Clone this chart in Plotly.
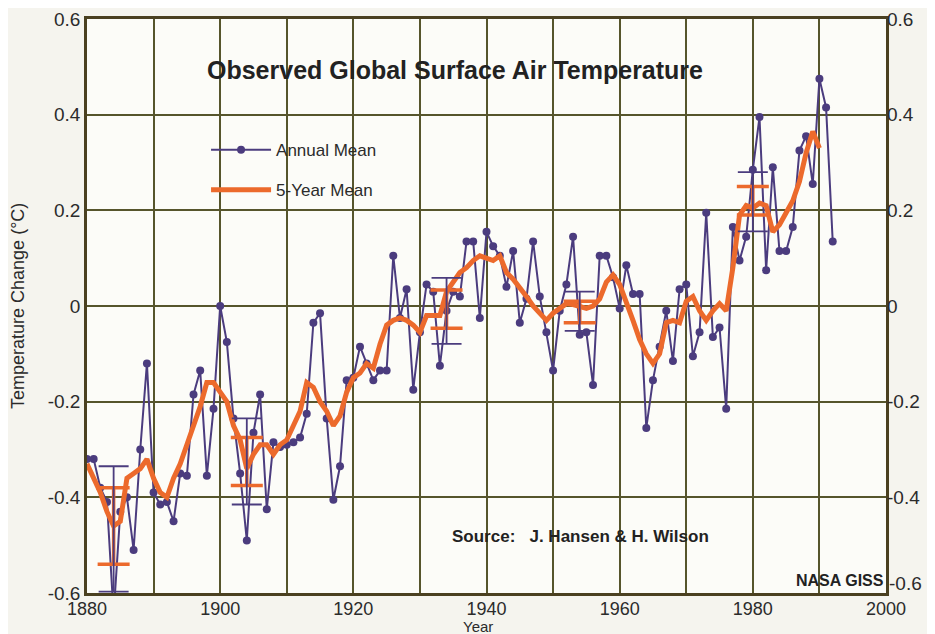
import plotly.graph_objects as go

# ---------------- data ----------------
years = list(range(1880, 1993))
annual_mean = [
    -0.32, -0.32, -0.38, -0.41, -0.645, -0.43, -0.40, -0.51, -0.30, -0.12,   # 1880-1889
    -0.39, -0.415, -0.41, -0.45, -0.35, -0.355, -0.185, -0.135, -0.355, -0.215,  # 1890-1899
    0.0, -0.075, -0.235, -0.35, -0.49, -0.265, -0.185, -0.425, -0.285, -0.295,   # 1900-1909
    -0.29, -0.285, -0.275, -0.225, -0.035, -0.015, -0.235, -0.405, -0.335, -0.155,  # 1910-1919
    -0.15, -0.085, -0.12, -0.155, -0.135, -0.135, 0.105, -0.025, 0.035, -0.175,  # 1920-1929
    -0.055, 0.045, 0.03, -0.125, -0.01, 0.03, 0.02, 0.135, 0.135, -0.025,       # 1930-1939
    0.155, 0.125, 0.105, 0.04, 0.115, -0.035, 0.015, 0.135, 0.02, -0.055,       # 1940-1949
    -0.135, -0.01, 0.045, 0.145, -0.06, -0.055, -0.165, 0.105, 0.105, 0.06,     # 1950-1959
    -0.005, 0.085, 0.025, 0.025, -0.255, -0.155, -0.085, -0.01, -0.115, 0.035,  # 1960-1969
    0.045, -0.105, -0.055, 0.195, -0.065, -0.045, -0.215, 0.165, 0.095, 0.145,  # 1970-1979
    0.285, 0.395, 0.075, 0.29, 0.115, 0.115, 0.165, 0.325, 0.355, 0.255,        # 1980-1989
    0.475, 0.415, 0.135,                                                        # 1990-1992
]

five_year_years = list(range(1880, 1991))
five_year_mean = [
    -0.33, -0.36, -0.39, -0.43, -0.46, -0.45, -0.36, -0.35, -0.34, -0.32,   # 1880-1889
    -0.36, -0.39, -0.40, -0.36, -0.33, -0.29, -0.25, -0.21, -0.16, -0.16,   # 1890-1899
    -0.18, -0.20, -0.25, -0.28, -0.34, -0.31, -0.29, -0.29, -0.31, -0.29,   # 1900-1909
    -0.28, -0.25, -0.22, -0.16, -0.17, -0.20, -0.22, -0.25, -0.23, -0.18,   # 1910-1919
    -0.15, -0.14, -0.12, -0.13, -0.08, -0.04, -0.03, -0.025, -0.03, -0.04,  # 1920-1929
    -0.055, -0.02, -0.02, -0.02, 0.03, 0.05, 0.07, 0.08, 0.095, 0.105,      # 1930-1939
    0.10, 0.095, 0.105, 0.07, 0.056, 0.04, 0.02, 0.0, -0.015, -0.03,        # 1940-1949
    -0.015, -0.005, 0.005, 0.003, 0.0, -0.005, 0.0, 0.015, 0.05, 0.065,     # 1950-1959
    0.045, 0.01, -0.03, -0.07, -0.10, -0.12, -0.10, -0.035, -0.03, -0.035,  # 1960-1969
    0.01, 0.02, -0.01, -0.03, -0.01, 0.005, -0.01, 0.08, 0.19, 0.21,        # 1970-1979
    0.205, 0.215, 0.21, 0.155, 0.17, 0.195, 0.22, 0.26, 0.32, 0.365,        # 1980-1989
    0.33,                                                                   # 1990
]

# uncertainty bars
err_years = [1884, 1904, 1934, 1954, 1980]
annual_err_center = [-0.466, -0.325, -0.01, -0.011, 0.218]
annual_err_half = [0.131, 0.09, 0.069, 0.041, 0.062]
five_err_center = [-0.46, -0.325, -0.0065, -0.0125, 0.22]
five_err_half = [0.08, 0.05, 0.04, 0.0225, 0.03]

y_tick_vals = [0.6, 0.4, 0.2, 0, -0.2, -0.4, -0.6]
y_tick_text = ["0.6", "0.4", "0.2", "0", "-0.2", "-0.4", "-0.6"]
x_tick_vals = [1880, 1900, 1920, 1940, 1960, 1980, 2000]
x_tick_text = ["1880", "1900", "1920", "1940", "1960", "1980", "2000"]

# ---------------- style ----------------
PURPLE = "#4b3c7e"
ORANGE = "#ec6a2c"
GRID = "#56552c"
FRAME = "#4a4020"
FONT = "Liberation Sans, Arial, sans-serif"
TXT = "#2b2b2b"

fig = go.Figure()

fig.add_trace(go.Scatter(
    x=err_years, y=annual_err_center, mode="markers",
    marker=dict(size=1, color="rgba(0,0,0,0)"),
    error_y=dict(type="data", array=annual_err_half, color=PURPLE, thickness=1.8, width=15),
    showlegend=False, hoverinfo="skip", yaxis="y2",
))
fig.add_trace(go.Scatter(
    x=years, y=annual_mean, mode="lines+markers", name="Annual Mean",
    legendgroup="a",
    line=dict(color=PURPLE, width=2),
    marker=dict(color=PURPLE, size=8),
))
fig.add_trace(go.Scatter(
    x=err_years, y=five_err_center, mode="markers",
    marker=dict(size=1, color="rgba(0,0,0,0)"),
    error_y=dict(type="data", array=five_err_half, color=ORANGE, thickness=3.5, width=16),
    showlegend=False, hoverinfo="skip",
))
fig.add_trace(go.Scatter(
    x=five_year_years, y=five_year_mean, mode="lines", name="5-Year Mean",
    legendgroup="b",
    line=dict(color=ORANGE, width=5),
))

fig.update_layout(
    width=935, height=634,
    margin=dict(l=79, r=57, t=11, b=49),
    paper_bgcolor="#f5f4ee",
    plot_bgcolor="#fcfcf8",
    font=dict(family=FONT, color=TXT, size=16),
    showlegend=True,
    legend=dict(
        x=0.149, y=0.803, xanchor="left", yanchor="top",
        bgcolor="rgba(0,0,0,0)", borderwidth=0,
        font=dict(family=FONT, size=17, color=TXT),
        itemwidth=60, traceorder="grouped", tracegroupgap=15,
    ),
    xaxis=dict(
        range=[1880, 2000], tickvals=x_tick_vals, ticktext=x_tick_text,
        showgrid=True, gridcolor=GRID, gridwidth=1.6,
        minor=dict(dtick=10, tick0=1880, showgrid=True, gridcolor=GRID, gridwidth=1.6),
        showline=True, linecolor=FRAME, linewidth=2.5, mirror=True,
        ticks="", zeroline=False, automargin=False,
        ticklabelstandoff=-2,
        tickfont=dict(size=18, color=TXT),
    ),
    yaxis=dict(
        range=[-0.6, 0.6], tickvals=y_tick_vals, ticktext=y_tick_text,
        showgrid=True, gridcolor=GRID, gridwidth=1.6,
        showline=True, linecolor=FRAME, linewidth=2.5, mirror=True,
        ticks="", zeroline=False, automargin=False,
        tickfont=dict(size=19, color=TXT),
    ),
    yaxis2=dict(
        range=[-0.6, 0.6], matches="y", overlaying="y", side="right",
        tickvals=y_tick_vals[:-1], ticktext=y_tick_text[:-1],
        showgrid=False, zeroline=False, ticks="", automargin=False,
        tickfont=dict(size=19, color=TXT),
    ),
    annotations=[
        dict(text="<b>Observed Global Surface Air Temperature</b>", xref="paper", yref="paper",
             x=0.4606, y=0.911, xanchor="center", yanchor="middle", showarrow=False,
             font=dict(family=FONT, size=25, color="#222222")),
        dict(text="<b>Source:   J. Hansen &amp; H. Wilson</b>", xref="paper", yref="paper",
             x=0.454, y=0.0976, xanchor="left", yanchor="middle", showarrow=False,
             font=dict(family=FONT, size=17, color="#222222")),
        dict(text="<b>NASA GISS</b>", xref="paper", yref="paper",
             x=1.0, y=0.0226, xanchor="right", yanchor="middle", showarrow=False,
             font=dict(family=FONT, size=16, color="#222222")),
        dict(text=y_tick_text[-1], xref="paper", yref="paper",
             x=1.0, xshift=1, y=0.0174, xanchor="left", yanchor="middle", showarrow=False,
             font=dict(family=FONT, size=19, color=TXT)),
        dict(text="Temperature Change (°C)", xref="paper", yref="paper",
             x=-0.0864, y=0.5, xanchor="center", yanchor="middle", textangle=-90,
             showarrow=False, font=dict(family=FONT, size=18, color=TXT)),
        dict(text="Year", xref="paper", yref="paper",
             x=0.489, y=-0.0585, xanchor="center", yanchor="middle",
             showarrow=False, font=dict(family=FONT, size=15, color=TXT)),
    ],
)

fig.write_html("out.html")
